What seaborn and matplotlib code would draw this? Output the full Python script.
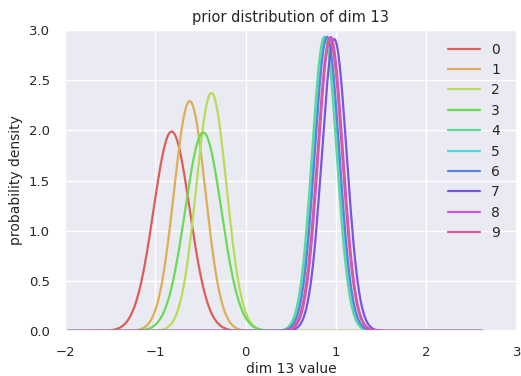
import numpy as np
import pandas as pd
import matplotlib
matplotlib.use("Agg")
import matplotlib.pyplot as plt
import seaborn as sns

# prior components for latent dimension 13: mean and std of each class prior
labels = ["0", "1", "2", "3", "4", "5", "6", "7", "8", "9"]
means = [-0.82, -0.62, -0.38, -0.47, 0.87, 0.89, 0.90, 0.98, 0.94, 0.93]
stds = [0.2005, 0.174, 0.168, 0.2015, 0.136, 0.136, 0.136, 0.137, 0.136, 0.137]

x_grid = np.linspace(-1.97, 2.62, 300)

rows = []
for lab, mu, sd in zip(labels, means, stds):
    pdf = np.exp(-0.5 * ((x_grid - mu) / sd) ** 2) / (sd * np.sqrt(2 * np.pi))
    rows.append(pd.DataFrame({"x": x_grid, "density": pdf, "label": lab}))
df = pd.concat(rows, ignore_index=True)

sns.set_theme(style="darkgrid")
plt.rcParams["font.family"] = ["DejaVu Sans"]

fig = plt.figure(figsize=(5.21, 3.76), dpi=100)
ax = fig.add_axes([0.1248, 0.1197, 0.8672, 0.8003])

palette = sns.color_palette("hls", len(labels))
sns.lineplot(data=df, x="x", y="density", hue="label", palette=palette,
             linewidth=1.6, ax=ax, legend=True)

ax.set_xlim(-2, 3)
ax.set_ylim(0, 3)
ax.set_xticks([-2, -1, 0, 1, 2, 3])
ax.set_yticks([0.0, 0.5, 1.0, 1.5, 2.0, 2.5, 3.0])
ax.set_yticklabels(["0.0", "0.5", "1.0", "1.5", "2.0", "2.5", "3.0"])
ax.tick_params(labelsize=9.5, pad=5)
ax.set_xlabel("dim 13 value", fontsize=10, labelpad=2)
ax.set_ylabel("probability density", fontsize=10)
ax.set_title("prior distribution of dim 13", fontsize=10.5)

leg = ax.legend(loc="upper right", frameon=False, fontsize=10,
                handlelength=2.3, labelspacing=0.46,
                bbox_to_anchor=(0.99, 1.0))

fig.savefig("out.png", dpi=100)
